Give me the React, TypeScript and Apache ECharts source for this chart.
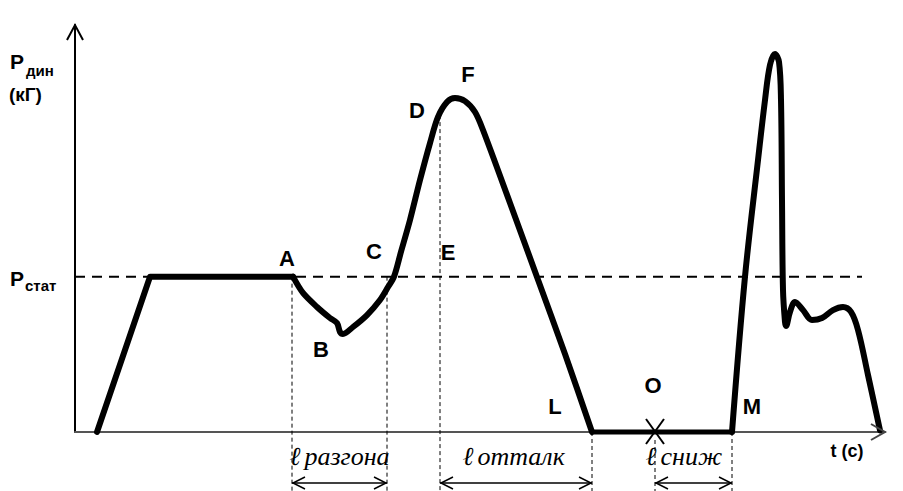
import React, { useEffect, useRef } from "react";
import * as echarts from "echarts";

// values: t in conventional time units, P in conventional force units (P_stat = 100)
const P_STAT = 100;
const T_MAX = 81;
const P_MAX = 262;

const rampT = [2.2, 7.5, 21.8];
const rampP = [0, 100, 100];

const takeoffT = [21.8, 22.8, 24.2, 25.5, 26.2, 26.5, 26.8, 27.8, 29.2, 30.5, 31.3, 31.9, 32.6, 33.5, 34.5, 35.5, 36.3, 37.2, 38.0, 39.0, 40.0, 40.8, 43.5, 46.2, 49.0, 51.7];
const takeoffP = [100, 89.5, 80.5, 73.4, 70.2, 64.4, 63.1, 67.6, 75.3, 85, 93.3, 100, 116, 136.5, 162.2, 186, 202.8, 212.4, 215, 213, 206, 194.4, 147.4, 99.8, 50.2, 0];

const flightT = [51.7, 65.7];
const flightP = [0, 0];

const landingT = [65.7, 67.0, 68.3, 69.0, 69.5, 70.0, 70.4, 70.6, 70.7, 70.8, 71.0, 71.1, 71.5, 72.0, 72.8, 73.7, 74.7, 75.8, 76.8, 77.6, 78.3, 79.3, 80.5];
const landingP = [0, 100, 175, 213.7, 236.3, 243.3, 238.2, 213.7, 149.4, 91.4, 70.8, 68.2, 77.3, 83.7, 78.5, 72.1, 73.4, 78.5, 80.5, 77.3, 65.7, 36.7, 1];

const statLineT = [0, 78.7];

// key moments (t) and heights (P) for the guide lines
const tA = 21.7, tC = 31.2, tD = 36.5, tL = 51.7, tO = 58.0, tM = 65.7;
const pD = 204;

const zip = (a: number[], b: number[]) => a.map((v, i) => [v, b[i]]);

export default function App() {
  const ref = useRef<HTMLDivElement>(null);
  useEffect(() => {
    if (!ref.current) return;
    const chart = echarts.init(ref.current, undefined, { renderer: "svg" });
    const curveStyle = { color: "#000", width: 6, cap: "round", join: "round" };
    chart.setOption({
      animation: false,
      backgroundColor: "#fff",
      grid: { left: 75, right: 18, top: 25, bottom: 59 },
      xAxis: {
        type: "value", min: 0, max: T_MAX,
        axisLine: { show: true, lineStyle: { color: "#555", width: 2 } },
        axisTick: { show: false }, axisLabel: { show: false }, splitLine: { show: false },
      },
      yAxis: {
        type: "value", min: 0, max: P_MAX,
        axisLine: { show: true, lineStyle: { color: "#000", width: 2 } },
        axisTick: { show: false }, axisLabel: { show: false }, splitLine: { show: false },
      },
      series: [
        {
          type: "line", data: zip(statLineT, [P_STAT, P_STAT]), showSymbol: false, z: 1,
          lineStyle: { color: "#000", width: 2, type: [10, 7] }, silent: true,
        },
        { type: "line", data: zip(rampT, rampP), showSymbol: false, clip: false, z: 3, lineStyle: curveStyle },
        { type: "line", data: zip(takeoffT, takeoffP), smooth: 0.3, showSymbol: false, clip: false, z: 3, lineStyle: curveStyle },
        { type: "line", data: zip(flightT, flightP), showSymbol: false, clip: false, z: 3, lineStyle: { ...curveStyle, width: 5 } },
        { type: "line", data: zip(landingT, landingP), smooth: 0.35, showSymbol: false, clip: false, z: 3, lineStyle: curveStyle },
      ],
    });

    const px = (t: number, p: number) => chart.convertToPixel({ gridIndex: 0 }, [t, p]) as number[];
    const BOTTOM = 491;
    const ARROW_Y = 483;
    const g: any[] = [];
    const dash = (t: number, p: number) => {
      const [x, y] = px(t, p);
      g.push({ type: "line", shape: { x1: x, y1: y, x2: x, y2: BOTTOM }, style: { stroke: "#000", lineWidth: 1, lineDash: [4, 3] }, z: 2 });
    };
    dash(tA, P_STAT);
    dash(tC, P_STAT);
    dash(tD, pD);
    dash(tL, 0);
    dash(tM, 0);
    {
      const [x, y] = px(tO, 0);
      g.push({ type: "line", shape: { x1: x, y1: y + 8, x2: x, y2: BOTTOM }, style: { stroke: "#000", lineWidth: 1, lineDash: [4, 3] }, z: 2 });
      g.push({ type: "line", shape: { x1: x - 9, y1: y - 13, x2: x + 9, y2: y + 12 }, style: { stroke: "#000", lineWidth: 2 }, z: 5 });
      g.push({ type: "line", shape: { x1: x + 9, y1: y - 13, x2: x - 9, y2: y + 12 }, style: { stroke: "#000", lineWidth: 2 }, z: 5 });
    }
    const dim = (t1: number, t2: number) => {
      const x1 = px(t1, 0)[0], x2 = px(t2, 0)[0];
      const st = { stroke: "#000", lineWidth: 1.5, fill: "none" };
      g.push({ type: "line", shape: { x1, y1: ARROW_Y, x2, y2: ARROW_Y }, style: st, z: 4 });
      g.push({ type: "polyline", shape: { points: [[x1 + 13, ARROW_Y - 6], [x1 + 1, ARROW_Y], [x1 + 13, ARROW_Y + 6]] }, style: st, z: 4 });
      g.push({ type: "polyline", shape: { points: [[x2 - 13, ARROW_Y - 6], [x2 - 1, ARROW_Y], [x2 - 13, ARROW_Y + 6]] }, style: st, z: 4 });
    };
    dim(tA, tC);
    dim(tD, tL);
    dim(tO, tM);

    // axis arrowheads
    {
      const [x0, yTop] = px(0, P_MAX);
      g.push({ type: "polyline", shape: { points: [[x0 - 8, yTop + 15], [x0, yTop], [x0 + 8, yTop + 15]] }, style: { stroke: "#000", lineWidth: 2, fill: "none" }, z: 4 });
      const [xe, y0] = px(T_MAX, 0);
      g.push({ type: "polyline", shape: { points: [[xe - 14, y0 - 8], [xe, y0], [xe - 14, y0 + 8]] }, style: { stroke: "#444", lineWidth: 2, fill: "none" }, z: 4 });
    }

    const bold = (s: string, x: number, y: number, size = 22, align = "center") =>
      g.push({ type: "text", z: 6, style: { text: s, x, y, font: `bold ${size}px "Liberation Sans", Arial, sans-serif`, fill: "#000", textAlign: align, textVerticalAlign: "middle" } });
    const serif = `"Liberation Serif", "Times New Roman", serif`;
    const ital = (s: string, x: number, y: number) =>
      g.push({
        type: "text", z: 6,
        style: {
          text: `{l|ℓ} {w|${s}}`, x, y, textAlign: "left", textVerticalAlign: "middle", fill: "#000",
          rich: {
            l: { font: `bold italic 26px ${serif}`, fill: "#000" },
            w: { font: `italic 26px ${serif}`, fill: "#000" },
          },
        },
      });

    bold("A", 287, 258);
    bold("B", 321, 349);
    bold("C", 374, 251);
    bold("D", 417, 110);
    bold("E", 448, 252);
    bold("F", 468, 74);
    bold("L", 555, 406);
    bold("O", 653, 385);
    bold("M", 752, 406);
    bold("t (c)", 847, 451, 18);

    bold("P", 10, 61, 21, "left");
    bold("дин", 26, 70, 15, "left");
    bold("(кГ)", 9, 94, 19, "left");
    bold("P", 10, 278, 21, "left");
    bold("стат", 25, 285, 15, "left");

    ital("разгона", 290, 456);
    ital("отталк", 463, 456);
    ital("сниж", 646, 456);

    chart.setOption({ graphic: g });
    return () => chart.dispose();
  }, []);
  return <div ref={ref} style={{ position: "absolute", left: 0, top: 0, width: 903, height: 491, background: "#fff" }} />;
}
